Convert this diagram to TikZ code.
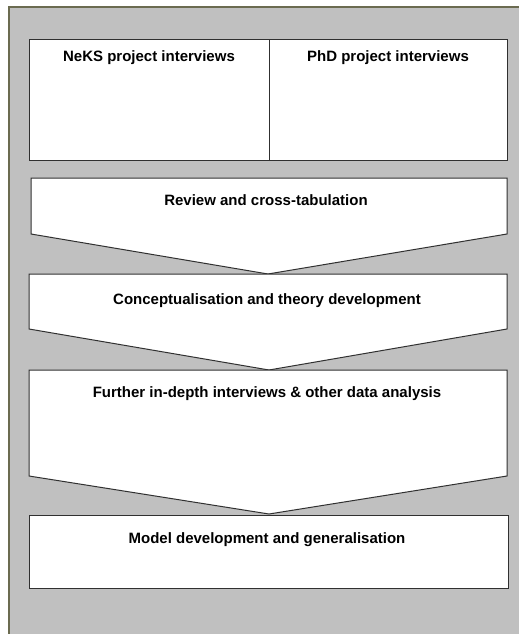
\documentclass[tikz,border=0pt]{standalone}
\usepackage{fontspec}
\setmainfont{Liberation Sans}
\usetikzlibrary{arrows}
\definecolor{paneGray}{HTML}{C0C0C0}
\definecolor{paneEdge}{HTML}{6B6B50}
\definecolor{lineGray}{HTML}{303030}

\begin{document}
\begin{tikzpicture}[x = 1pt, y = -1pt]
\tikzstyle{stageStyle} = [draw = lineGray, fill = white, line width = 1pt, line join = miter]
\tikzstyle{labelStyle} = [anchor = base, inner sep = 0pt, font = \fontsize{15}{18}\selectfont\bfseries]
\useasboundingbox (0,0) rectangle (519,634);
\fill[paneGray] (8,6) rectangle (519,634);
\draw[line width = 2pt, draw = paneEdge] (9,634) -- (9,7) -- (519,7);
% interview boxes
\draw[stageStyle] (29,40) rectangle (269,160);
\draw[stageStyle] (269,40) rectangle (507,160);
\node[labelStyle] (neks) at (149,62) {NeKS project interviews};
\node[labelStyle] (phd) at (388,62) {PhD project interviews};
% chevrons
\draw[stageStyle] (31,178) -- (507,178) -- (507,234) -- (268,274) -- (31,234) -- cycle;
\node[labelStyle] (review) at (266,205) {Review and cross-tabulation};
\draw[stageStyle] (29,274) -- (507,274) -- (507,329) -- (269,370) -- (29,329) -- cycle;
\node[labelStyle] (concept) at (267,304) {Conceptualisation and theory development};
\draw[stageStyle] (29,370) -- (507,370) -- (507,476) -- (269,514) -- (29,476) -- cycle;
\node[labelStyle] (further) at (267,397) {Further in-depth interviews \& other data analysis};
% last box
\draw[stageStyle] (29,515) rectangle (508,588);
\node[labelStyle] (model) at (267,543) {Model development and generalisation};
\end{tikzpicture}
\end{document}
